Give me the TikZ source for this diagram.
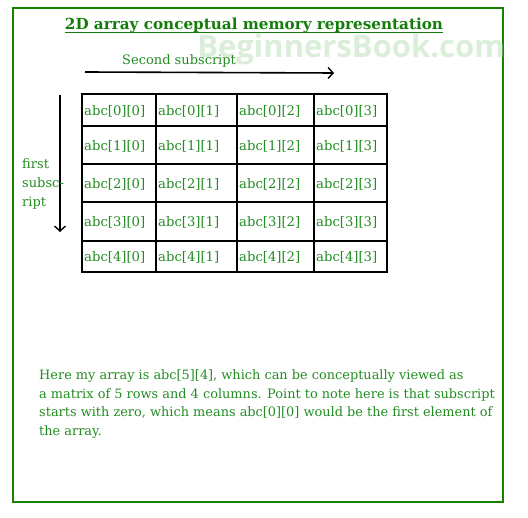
\documentclass[tikz,border=0pt]{standalone}
\usepackage{fontspec}
\setmainfont{DejaVu Serif}
\newfontfamily\wmfont{Open Sans}
\usetikzlibrary{arrows.meta}
\definecolor{framegreen}{RGB}{22,130,0}
\definecolor{txtgreen}{RGB}{34,140,34}
\definecolor{titlegreen}{RGB}{20,125,10}
\definecolor{wmgreen}{RGB}{218,238,218}
\tikzset{
  cellbox/.style={draw=black, line width=1.9pt, inner sep=0pt, anchor=north west},
  celltext/.style={text=txtgreen, font=\fontsize{13.2}{15}\selectfont, inner sep=0pt, anchor=west},
  bodytext/.style={text=txtgreen, font=\fontsize{12.9}{15}\selectfont, inner sep=0pt, anchor=base west},
  lbltext/.style={text=txtgreen, font=\fontsize{13}{15}\selectfont, inner sep=0pt, anchor=base west},
  arr/.style={line width=1.6pt, -{Straight Barb[length=5pt,width=11pt,line width=1.4pt]}}
}
\begin{document}
\begin{tikzpicture}[x=1pt,y=-1pt]
\useasboundingbox (0,0) rectangle (528,518);
\draw[framegreen, line width=2pt] (13,8) rectangle (503,502);
\node[text=wmgreen, font=\wmfont\bfseries\fontsize{31}{32}\selectfont, anchor=east, inner sep=0pt] (wm) at (505,49) {BeginnersBook.com};
\node[text=titlegreen, font=\bfseries\fontsize{15.2}{17}\selectfont, inner sep=0pt, anchor=base] (title) at (254,30) {2D array conceptual memory representation};
\draw[titlegreen, line width=1pt] ([yshift=-2.5pt]title.base west) -- ([yshift=-2.5pt]title.base east);
\node[lbltext] (second) at (122,65) {Second subscript};
\coordinate (h0) at (85,72);
\coordinate (h1) at (334,73);
\draw[arr] (h0) -- (h1);
\coordinate (v0) at (60,95);
\coordinate (v1) at (60,232);
\draw[arr] (v0) -- (v1);
\node[lbltext] (f1) at (22,169) {first};
\node[lbltext] (f2) at (22,188) {subsc-};
\node[lbltext] (f3) at (22,207) {ript};
\foreach \i/\ya/\yb in {0/93/125,1/125/163,2/163/201,3/201/240,4/240/271}{
  \foreach \j/\xa/\xb in {0/81/155,1/155/236,2/236/313,3/313/386}{
    \node[cellbox, minimum width={(\xb-\xa)*1pt}, minimum height={(\yb-\ya)*1pt}] (c\i\j) at (\xa,\ya) {};
    \node[celltext] (t\i\j) at ([xshift=3pt,yshift=-1pt]c\i\j.west) {abc[\i][\j]};
  }
}
\node[bodytext] (p1) at (39,380) {Here my array is abc[5][4], which can be conceptually viewed as};
\node[bodytext] (p2) at (39,399) {a matrix of 5 rows and 4 columns. Point to note here is that subscript};
\node[bodytext] (p3) at (39,417) {starts with zero, which means abc[0][0] would be the first element of};
\node[bodytext] (p4) at (39,436) {the array.};
\end{tikzpicture}
\end{document}
